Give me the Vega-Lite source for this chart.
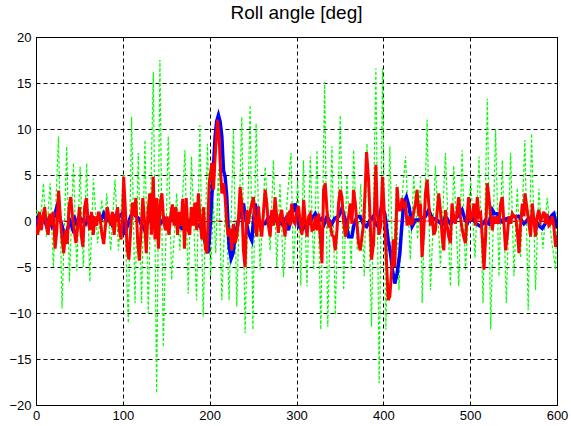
{
  "$schema": "https://vega.github.io/schema/vega-lite/v6.json",
  "autosize": {"type": "none"},
  "width": 521,
  "height": 368,
  "padding": {"left": 36, "top": 37, "right": 14, "bottom": 21},
  "background": "white",
  "title": {"text": "Roll angle [deg]", "font": "Liberation Sans", "fontSize": 19, "fontWeight": "normal", "color": "black", "offset": 8},
  "config": {
    "view": {"stroke": "black", "strokeWidth": 1},
    "axis": {
      "labelFont": "Liberation Sans", "labelFontSize": 13, "labelColor": "black",
      "domain": false, "ticks": false, "title": null,
      "grid": true, "gridColor": "black", "gridOpacity": 1, "gridDash": [4, 3], "gridWidth": 1
    }
  },
  "datasets": {
    "blue": [
      {"t":0,"v":-0.5},{"t":3,"v":0.5},{"t":6,"v":-0.3},{"t":9,"v":0.3},{"t":12,"v":-0.5},{"t":15,"v":0.2},{"t":18,"v":-0.5},{"t":21,"v":0.5},{"t":24,"v":1.5},{"t":27,"v":0.5},{"t":30,"v":-0.5},{"t":33,"v":-1.8},{"t":36,"v":-1},{"t":39,"v":0},{"t":42,"v":-0.8},{"t":45,"v":0.2},{"t":48,"v":-0.5},{"t":51,"v":0.3},{"t":54,"v":0},{"t":57,"v":-0.3},{"t":60,"v":0.5},{"t":63,"v":0},{"t":66,"v":0.3},{"t":69,"v":-0.2},{"t":72,"v":0.5},{"t":75,"v":0.2},{"t":78,"v":0.8},{"t":81,"v":0},{"t":84,"v":0.3},{"t":87,"v":-0.3},{"t":90,"v":0.5},{"t":93,"v":0.2},{"t":96,"v":0.5},{"t":99,"v":0.8},{"t":102,"v":-1.5},{"t":106,"v":-0.3},{"t":109,"v":0.5},{"t":112,"v":1},{"t":115,"v":0.5},{"t":118,"v":0.3},{"t":121,"v":-0.3},{"t":124,"v":-0.8},{"t":127,"v":-0.3},{"t":130,"v":0},{"t":134,"v":0.5},{"t":137,"v":0.3},{"t":140,"v":0.2},{"t":144,"v":-0.2},{"t":148,"v":0.3},{"t":152,"v":-0.3},{"t":156,"v":0.3},{"t":160,"v":-0.2},{"t":164,"v":-0.5},{"t":168,"v":-0.8},{"t":172,"v":-0.3},{"t":176,"v":0},{"t":180,"v":0.2},{"t":184,"v":-0.3},{"t":188,"v":-0.5},{"t":192,"v":-1},{"t":195,"v":-2.4},{"t":198,"v":-3.5},{"t":200,"v":-1.5},{"t":202.5,"v":2.6},{"t":206.3,"v":9.2},{"t":208,"v":10.8},{"t":210.1,"v":11.5},{"t":212,"v":10.8},{"t":214,"v":9.2},{"t":215.9,"v":5.5},{"t":217.8,"v":4.8},{"t":219.7,"v":2.6},{"t":222.4,"v":-2.8},{"t":224.7,"v":-4.1},{"t":227,"v":-3.5},{"t":229.3,"v":-1.7},{"t":233.2,"v":0.1},{"t":236,"v":1},{"t":238.9,"v":1.9},{"t":241,"v":0.5},{"t":244.7,"v":-1.3},{"t":248.5,"v":-2.1},{"t":252.3,"v":1.9},{"t":255,"v":0.5},{"t":258.1,"v":-0.3},{"t":263.9,"v":-0.3},{"t":267,"v":0.3},{"t":271.5,"v":0.5},{"t":277,"v":0},{"t":283,"v":-0.3},{"t":287,"v":0.2},{"t":290.7,"v":-1},{"t":294,"v":0.5},{"t":298.4,"v":1.9},{"t":301,"v":0.5},{"t":303,"v":-0.6},{"t":306.3,"v":-1},{"t":310,"v":-0.5},{"t":313.9,"v":-0.3},{"t":318,"v":0.3},{"t":321.6,"v":0.8},{"t":325,"v":0},{"t":329.3,"v":0.3},{"t":332,"v":-0.3},{"t":335.1,"v":0.5},{"t":338,"v":0},{"t":340.8,"v":-0.3},{"t":344,"v":0.3},{"t":348.5,"v":0.5},{"t":352.3,"v":1.4},{"t":356.2,"v":0.1},{"t":360,"v":-1.7},{"t":363.8,"v":-1.7},{"t":366,"v":-0.5},{"t":369.6,"v":0.5},{"t":373,"v":0.5},{"t":376.8,"v":-0.3},{"t":380.7,"v":-0.6},{"t":384,"v":0},{"t":388.3,"v":0.5},{"t":391,"v":-0.3},{"t":394,"v":-0.6},{"t":397.9,"v":1.6},{"t":401.7,"v":0.8},{"t":405.6,"v":-2.1},{"t":408.2,"v":-3.5},{"t":410.5,"v":-5.3},{"t":413.2,"v":-6.8},{"t":415.9,"v":-5.7},{"t":419,"v":-3.5},{"t":420.9,"v":-1},{"t":423.6,"v":1.9},{"t":426.6,"v":2.6},{"t":429.7,"v":1.5},{"t":433.1,"v":-0.6},{"t":437,"v":0.1},{"t":440.8,"v":0.1},{"t":444.6,"v":0.3},{"t":448.5,"v":0.5},{"t":452.3,"v":1.2},{"t":456.2,"v":0.3},{"t":461.9,"v":0.1},{"t":467.7,"v":-0.4},{"t":471.5,"v":0.5},{"t":477.3,"v":-0.3},{"t":483,"v":0.3},{"t":487,"v":0.6},{"t":490.7,"v":1.2},{"t":494,"v":0.2},{"t":496.4,"v":-0.3},{"t":500.3,"v":0.5},{"t":502.5,"v":0.3},{"t":507,"v":-0.3},{"t":512.1,"v":-0.6},{"t":517,"v":0},{"t":521.6,"v":-0.3},{"t":525.5,"v":1.2},{"t":528,"v":0.8},{"t":531.2,"v":0.8},{"t":534,"v":0.2},{"t":537,"v":-0.1},{"t":541,"v":0.2},{"t":544.6,"v":0.3},{"t":550.4,"v":0.5},{"t":556.2,"v":0.5},{"t":561.9,"v":-0.3},{"t":567.7,"v":0.3},{"t":571,"v":0.2},{"t":575.3,"v":0.1},{"t":579,"v":-0.5},{"t":583,"v":-0.8},{"t":587,"v":-0.2},{"t":590.6,"v":0.1},{"t":594,"v":0.6},{"t":596.4,"v":0.8},{"t":600,"v":-0.8}
    ],
    "red": [
      {"t":0,"v":-0.5},{"t":2,"v":-1.5},{"t":4,"v":1},{"t":6,"v":-1},{"t":8,"v":0.5},{"t":10,"v":1.5},{"t":12,"v":-0.5},{"t":14,"v":-1.5},{"t":16,"v":0.8},{"t":18,"v":-0.5},{"t":20,"v":1},{"t":22,"v":-3},{"t":24,"v":-1},{"t":26,"v":3.3},{"t":28,"v":0.5},{"t":30,"v":-2},{"t":32,"v":-3.5},{"t":34,"v":-1},{"t":36,"v":-2.5},{"t":38,"v":1.5},{"t":40,"v":2.6},{"t":42,"v":0.5},{"t":44,"v":-1},{"t":46,"v":-2.4},{"t":48,"v":-0.5},{"t":50,"v":1.5},{"t":52,"v":-1.5},{"t":54,"v":-2.8},{"t":56,"v":1.5},{"t":58,"v":2.5},{"t":60,"v":0},{"t":62,"v":-1},{"t":64,"v":1},{"t":66,"v":-1.5},{"t":68,"v":0.5},{"t":70,"v":-0.5},{"t":72,"v":1},{"t":74,"v":0.3},{"t":76,"v":-1.5},{"t":78,"v":-2.5},{"t":80,"v":-0.5},{"t":82,"v":1.5},{"t":84,"v":0.5},{"t":86,"v":-0.5},{"t":88,"v":1},{"t":90,"v":-1.5},{"t":92,"v":0.5},{"t":94,"v":1.5},{"t":96,"v":-1},{"t":98,"v":-2},{"t":100,"v":1},{"t":101,"v":4.8},{"t":103,"v":1},{"t":105,"v":-3},{"t":107,"v":-4.2},{"t":109,"v":-1},{"t":111,"v":2},{"t":113,"v":0.5},{"t":115,"v":2.5},{"t":117,"v":-2},{"t":119,"v":-4.3},{"t":121,"v":-1},{"t":123,"v":2.5},{"t":125,"v":0},{"t":127,"v":-3.5},{"t":129,"v":1},{"t":131,"v":3},{"t":133,"v":-1.5},{"t":135,"v":4.8},{"t":137,"v":-2},{"t":139,"v":2.5},{"t":141,"v":-3},{"t":143,"v":2},{"t":145,"v":3},{"t":147,"v":0},{"t":149,"v":-1},{"t":151,"v":0.5},{"t":153,"v":-1.5},{"t":155,"v":0.5},{"t":157,"v":1.8},{"t":159,"v":-0.5},{"t":161,"v":1.5},{"t":163,"v":-1.5},{"t":165,"v":1},{"t":167,"v":-0.5},{"t":169,"v":2.4},{"t":171,"v":-3},{"t":173,"v":2.5},{"t":175,"v":-1},{"t":177,"v":-1.5},{"t":179,"v":1.5},{"t":181,"v":-0.5},{"t":183,"v":2},{"t":185,"v":-1},{"t":187,"v":3},{"t":189,"v":0},{"t":191,"v":-2},{"t":193,"v":1.5},{"t":195,"v":-3},{"t":197,"v":-3.5},{"t":199.4,"v":4},{"t":202.5,"v":6.3},{"t":204.4,"v":3.4},{"t":206.3,"v":7},{"t":209,"v":11},{"t":210.9,"v":9.2},{"t":212.5,"v":5.5},{"t":214,"v":3},{"t":215.9,"v":4.1},{"t":217.8,"v":2.6},{"t":219.7,"v":-0.3},{"t":221.6,"v":-1.7},{"t":223.5,"v":-0.8},{"t":225.5,"v":-3.2},{"t":227.4,"v":-0.3},{"t":229.3,"v":-2.4},{"t":231.2,"v":-1.7},{"t":233,"v":0},{"t":235.1,"v":3.7},{"t":237,"v":1.9},{"t":238.9,"v":-3.2},{"t":240.8,"v":-5},{"t":242.7,"v":1.2},{"t":244.6,"v":-0.3},{"t":246.5,"v":1},{"t":248.5,"v":1.9},{"t":250.4,"v":2.6},{"t":252.3,"v":-0.3},{"t":254.2,"v":-1.7},{"t":256.2,"v":1.6},{"t":258,"v":-0.5},{"t":260,"v":-1.7},{"t":262,"v":1},{"t":263.9,"v":3.4},{"t":265.8,"v":1.9},{"t":267.7,"v":-0.5},{"t":269.6,"v":-1.7},{"t":271.5,"v":1.2},{"t":273.4,"v":-0.5},{"t":275.3,"v":2.6},{"t":277.2,"v":0.5},{"t":279.1,"v":-1.3},{"t":281,"v":0.5},{"t":283,"v":1.2},{"t":284.9,"v":-0.5},{"t":286.8,"v":-1.7},{"t":288.7,"v":0.5},{"t":290.7,"v":0.8},{"t":292.6,"v":-0.5},{"t":294.5,"v":1.9},{"t":296.4,"v":0},{"t":298.4,"v":-0.3},{"t":300.3,"v":1},{"t":302.2,"v":1.6},{"t":304.4,"v":-0.3},{"t":306.3,"v":-1.5},{"t":308.2,"v":2.3},{"t":310.2,"v":0},{"t":312.1,"v":-1.7},{"t":314,"v":0.5},{"t":315.9,"v":0.8},{"t":317.8,"v":-1},{"t":319.8,"v":-0.9},{"t":321.7,"v":0.5},{"t":323.6,"v":-1},{"t":325.5,"v":0.8},{"t":327.4,"v":-1.7},{"t":329.3,"v":-4.6},{"t":331.2,"v":3.4},{"t":333.1,"v":4.1},{"t":335.1,"v":1.2},{"t":337,"v":-0.5},{"t":338.9,"v":-0.3},{"t":340.8,"v":-1.5},{"t":342.7,"v":-1.7},{"t":344.6,"v":-3.2},{"t":346.6,"v":-1},{"t":348.5,"v":1.9},{"t":350.4,"v":3.4},{"t":352.3,"v":2.6},{"t":354.2,"v":0.1},{"t":356.2,"v":-1.7},{"t":358.1,"v":-1},{"t":360,"v":0.5},{"t":361.9,"v":1.9},{"t":363.8,"v":-0.3},{"t":365.7,"v":3.4},{"t":367.7,"v":1.9},{"t":369.6,"v":-0.3},{"t":371.5,"v":-2.4},{"t":373.4,"v":-3.2},{"t":375.4,"v":-1.7},{"t":377.3,"v":-0.3},{"t":379.2,"v":3.7},{"t":380.7,"v":7.5},{"t":383,"v":4.5},{"t":385,"v":-0.3},{"t":386.4,"v":-4.2},{"t":388.8,"v":-2.4},{"t":391.4,"v":6.1},{"t":393,"v":1},{"t":395,"v":-1.5},{"t":397,"v":-0.5},{"t":399,"v":4.8},{"t":401,"v":1},{"t":403,"v":-3},{"t":405.6,"v":-8.6},{"t":407.5,"v":-8.2},{"t":409.5,"v":-5.5},{"t":411.5,"v":-2},{"t":413.2,"v":-5},{"t":415,"v":0.5},{"t":415.9,"v":3.7},{"t":417.8,"v":1.2},{"t":419.7,"v":1.2},{"t":421.6,"v":2.5},{"t":423.6,"v":1.6},{"t":425.5,"v":1.9},{"t":427.4,"v":-0.5},{"t":429.3,"v":0.5},{"t":431.2,"v":-0.3},{"t":433.1,"v":-0.3},{"t":435,"v":1},{"t":437,"v":1.9},{"t":438.9,"v":3.4},{"t":440.8,"v":0.5},{"t":442.7,"v":1.9},{"t":444.6,"v":-3.9},{"t":446.6,"v":-1},{"t":448.5,"v":3},{"t":450.4,"v":4.5},{"t":452.3,"v":1.9},{"t":454.3,"v":-0.5},{"t":456.2,"v":0.5},{"t":458.1,"v":-1.5},{"t":460,"v":-1},{"t":461.9,"v":1},{"t":463.8,"v":3},{"t":465.7,"v":1.2},{"t":467.7,"v":-1.7},{"t":469.6,"v":-3.2},{"t":471.5,"v":1.2},{"t":473.4,"v":-0.5},{"t":475.3,"v":-1.7},{"t":477.2,"v":-2.4},{"t":479.1,"v":1.9},{"t":481,"v":0.5},{"t":483,"v":-0.3},{"t":484.9,"v":1},{"t":486.8,"v":2.6},{"t":488.7,"v":0.5},{"t":490.6,"v":-0.8},{"t":492.5,"v":-1.7},{"t":494.5,"v":-2.4},{"t":496.4,"v":0.5},{"t":498.3,"v":2.6},{"t":500.2,"v":0},{"t":502.2,"v":0.5},{"t":504.4,"v":1.9},{"t":506.3,"v":-0.5},{"t":508.2,"v":2.6},{"t":510.1,"v":0.5},{"t":512.1,"v":0.8},{"t":514,"v":-1.7},{"t":515.9,"v":-5.3},{"t":517.8,"v":-1.7},{"t":519.7,"v":4.1},{"t":521.6,"v":2.6},{"t":523.6,"v":0.5},{"t":525.5,"v":-1},{"t":527.4,"v":0.5},{"t":529.3,"v":-0.3},{"t":531.2,"v":0.5},{"t":533.1,"v":-0.3},{"t":535.1,"v":1.9},{"t":537,"v":2.6},{"t":538.9,"v":-0.3},{"t":540.8,"v":-3.2},{"t":542.7,"v":-1.7},{"t":544.6,"v":0.5},{"t":546.6,"v":-0.3},{"t":548.5,"v":0.8},{"t":550.4,"v":0.5},{"t":552.3,"v":0.5},{"t":554.2,"v":-1},{"t":556.2,"v":-3.5},{"t":558.1,"v":-0.3},{"t":560,"v":1.9},{"t":561.9,"v":0.5},{"t":563.1,"v":3},{"t":565.7,"v":1.2},{"t":567.7,"v":-0.3},{"t":569.6,"v":-1.7},{"t":571.5,"v":1.9},{"t":573.4,"v":0.1},{"t":575.3,"v":-1.7},{"t":577.2,"v":0.5},{"t":579.1,"v":1.2},{"t":581,"v":0},{"t":583,"v":0.5},{"t":585,"v":1},{"t":586.8,"v":-0.3},{"t":588.7,"v":0.8},{"t":590.6,"v":-0.5},{"t":592.5,"v":-0.3},{"t":594.5,"v":0.5},{"t":596.4,"v":-0.6},{"t":598.3,"v":-2.8},{"t":600,"v":-1.5}
    ],
    "green": [
      {"t":0,"v":0},{"t":1,"v":1.2},{"t":4,"v":-1.3},{"t":8.6,"v":4.1},{"t":12,"v":-1.7},{"t":16.3,"v":4.1},{"t":20,"v":-5},{"t":25.9,"v":9.2},{"t":30,"v":-9.5},{"t":35.4,"v":8.1},{"t":38.5,"v":-6.6},{"t":43.1,"v":6.3},{"t":47,"v":-5.4},{"t":50.8,"v":5.9},{"t":54.5,"v":-5},{"t":58.4,"v":6.3},{"t":62,"v":-6.6},{"t":66.1,"v":4.6},{"t":71,"v":-2.4},{"t":75.7,"v":2.3},{"t":79,"v":-1.3},{"t":81.4,"v":3},{"t":86,"v":-3.2},{"t":91,"v":4.5},{"t":95,"v":-3.2},{"t":100.6,"v":5.2},{"t":106.3,"v":-11.1},{"t":110.1,"v":11.3},{"t":114,"v":-8.9},{"t":117.8,"v":7.4},{"t":121.6,"v":-8.9},{"t":125.5,"v":8.8},{"t":129.3,"v":-10},{"t":135.1,"v":16.2},{"t":138.9,"v":-18.7},{"t":142.7,"v":17.5},{"t":146.6,"v":-13.7},{"t":152.3,"v":9.2},{"t":156.2,"v":-6.4},{"t":162,"v":3},{"t":165.7,"v":-3.2},{"t":171.5,"v":7.7},{"t":175.3,"v":-7.9},{"t":179.1,"v":7},{"t":184.9,"v":-8.6},{"t":188.7,"v":10.4},{"t":192.5,"v":-10.4},{"t":197.5,"v":8.4},{"t":201,"v":-6},{"t":204.4,"v":2},{"t":207,"v":-3.5},{"t":210.1,"v":5.6},{"t":214,"v":-8.6},{"t":218.6,"v":3.4},{"t":222.4,"v":-8.6},{"t":227.4,"v":9.9},{"t":231.2,"v":-9.3},{"t":237,"v":11.3},{"t":240.8,"v":-12.2},{"t":246.6,"v":12.6},{"t":249.8,"v":-11.8},{"t":253.5,"v":10.6},{"t":258.1,"v":-5.3},{"t":263.9,"v":5.9},{"t":269.6,"v":-3.2},{"t":273.4,"v":6.6},{"t":277.3,"v":-5},{"t":281,"v":4.1},{"t":285,"v":-6.1},{"t":289,"v":2},{"t":293.7,"v":7.4},{"t":296.4,"v":-5.3},{"t":301.4,"v":4.5},{"t":305,"v":-7},{"t":308,"v":6.6},{"t":312.1,"v":-7.1},{"t":315.9,"v":7},{"t":319.8,"v":-5.3},{"t":323.6,"v":7.7},{"t":328,"v":-11.8},{"t":332.4,"v":15.1},{"t":336,"v":-11.5},{"t":340.8,"v":8.1},{"t":344.7,"v":-10.2},{"t":350.4,"v":11.5},{"t":354.3,"v":-7.5},{"t":358.1,"v":5},{"t":363.1,"v":-5.3},{"t":365.8,"v":7.7},{"t":370,"v":-3.2},{"t":374,"v":4},{"t":378,"v":-6},{"t":381.2,"v":8.4},{"t":386.4,"v":-11.5},{"t":391.4,"v":16.6},{"t":395.2,"v":-17.6},{"t":399.1,"v":16.6},{"t":402.9,"v":-11.8},{"t":407.5,"v":8.1},{"t":411,"v":-6},{"t":415,"v":4},{"t":418,"v":-7.5},{"t":422,"v":3},{"t":425.5,"v":7},{"t":431.2,"v":-4.2},{"t":435,"v":5},{"t":439.5,"v":-2},{"t":442.8,"v":4.8},{"t":444.7,"v":-8.9},{"t":450.4,"v":11},{"t":454.3,"v":-7.5},{"t":460,"v":6},{"t":465.8,"v":-5},{"t":471.5,"v":7.4},{"t":477.3,"v":-7.1},{"t":481.1,"v":6},{"t":486.9,"v":-7.1},{"t":490.7,"v":7.7},{"t":494.5,"v":-5.3},{"t":500.6,"v":4.5},{"t":505.6,"v":-4},{"t":510.2,"v":7},{"t":514.8,"v":-8.9},{"t":519.8,"v":13.3},{"t":523.6,"v":-11.8},{"t":529.3,"v":9.9},{"t":533.2,"v":-6},{"t":537,"v":6.6},{"t":541.6,"v":-8.9},{"t":546.6,"v":7.4},{"t":550.4,"v":-6},{"t":554.2,"v":3.6},{"t":558,"v":-4},{"t":563,"v":8.8},{"t":566.8,"v":-9.7},{"t":570.7,"v":9.5},{"t":575.3,"v":-7.5},{"t":579.1,"v":3.5},{"t":583.7,"v":-3},{"t":588.7,"v":2.5},{"t":593.7,"v":-2},{"t":598.3,"v":-5.3},{"t":600,"v":1}
    ]
  },
  "encoding": {
    "x": {"field": "t", "type": "quantitative", "scale": {"domain": [0, 600], "nice": false, "zero": false}, "axis": {"values": [0,100,200,300,400,500,600], "labelPadding": 4, "labelFlush": false}},
    "y": {"field": "v", "type": "quantitative", "scale": {"domain": [-20, 20], "nice": false}, "axis": {"values": [-20,-15,-10,-5,0,5,10,15,20], "labelPadding": 5}}
  },
  "layer": [
    {"data": {"name": "green"}, "mark": {"type": "line", "color": "#00ff00", "strokeWidth": 1.2, "strokeDash": [3, 2], "clip": true}},
    {"data": {"name": "blue"}, "mark": {"type": "line", "color": "#0000ff", "strokeWidth": 3.5, "clip": true}},
    {"data": {"name": "red"}, "mark": {"type": "line", "color": "#ff0000", "strokeWidth": 3, "clip": true}},
    {"data": {"values": [{"z": 0}]}, "mark": {"type": "rule", "color": "#ff0000", "strokeWidth": 0.8, "strokeDash": [6, 3]}, "encoding": {"y": {"field": "z", "type": "quantitative"}, "x": {"value": 0}, "x2": {"value": 521}}}
  ]
}
